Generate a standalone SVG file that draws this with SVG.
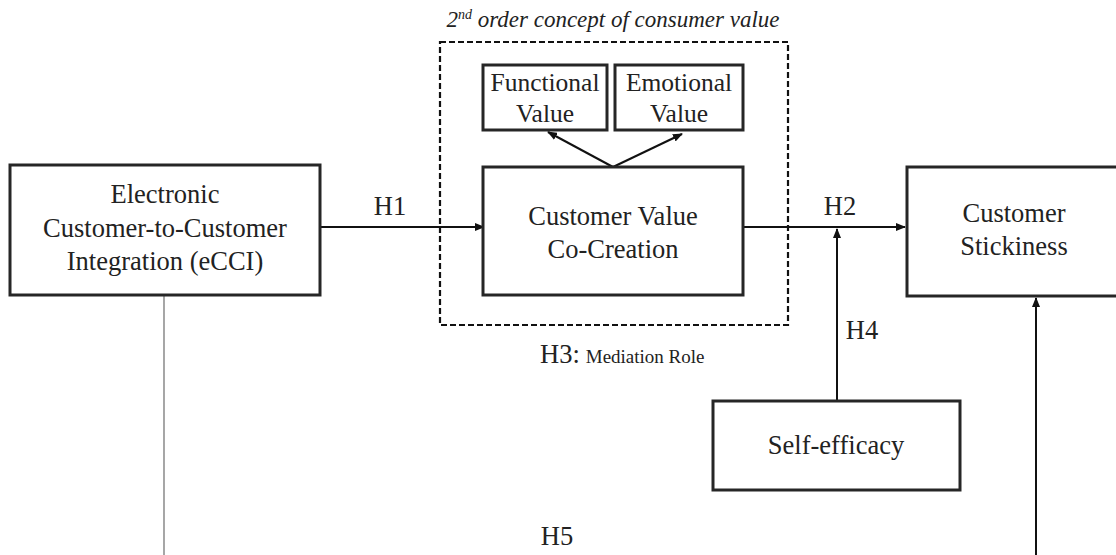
<svg xmlns="http://www.w3.org/2000/svg" width="1116" height="555" viewBox="0 0 1116 555">
<defs>
<style>
.box{fill:#fff;stroke:#262626;stroke-width:3}
.t{font-family:"Liberation Serif","Times New Roman",serif;font-size:26.5px;fill:#222;text-anchor:middle}
.s{font-size:25.5px}
.ln{stroke:#111;stroke-width:2;fill:none}
</style>
<marker id="ah" markerWidth="10" markerHeight="8" refX="9" refY="4" orient="auto" markerUnits="userSpaceOnUse">
<path d="M0,0 L10,4 L0,8 Z" fill="#111"/>
</marker>
</defs>
<rect width="1116" height="555" fill="#fff"/>
<g id="connectors">
<line class="ln" x1="320" y1="227" x2="484" y2="227" marker-end="url(#ah)"/>
<line class="ln" x1="743" y1="227" x2="905" y2="227" marker-end="url(#ah)"/>
<line class="ln" x1="837" y1="401" x2="837" y2="229" marker-end="url(#ah)"/>
<line class="ln" x1="613" y1="167" x2="548" y2="132" marker-end="url(#ah)"/>
<line class="ln" x1="613" y1="167" x2="682" y2="134" marker-end="url(#ah)"/>
<line x1="164" y1="296" x2="164" y2="555" stroke="#777" stroke-width="1.3"/>
<line class="ln" x1="1036" y1="555" x2="1036" y2="298" marker-end="url(#ah)"/>
</g>
<g id="group-consumer-value">
<rect x="440" y="42" width="348" height="283" fill="none" stroke="#111" stroke-width="2.2" stroke-dasharray="6,3"/>
<text x="613" y="27" font-family="Liberation Serif,serif" font-style="italic" font-size="23" fill="#222" text-anchor="middle">2<tspan font-size="14" dy="-8">nd</tspan><tspan dy="8"> order concept of consumer value</tspan></text>
</g>
<g id="eCCI">
<rect class="box" x="10" y="165" width="310" height="130"/>
<text class="t" x="165" y="203">Electronic</text>
<text class="t" x="165" y="237">Customer-to-Customer</text>
<text class="t" x="165" y="270">Integration (eCCI)</text>
</g>
<g id="cvcc">
<rect class="box" x="483" y="167" width="260" height="128"/>
<text class="t" x="613" y="225">Customer Value</text>
<text class="t" x="613" y="258">Co-Creation</text>
</g>
<g id="functional">
<rect class="box" x="483" y="65" width="124" height="65"/>
<text class="t s" x="545" y="91">Functional</text>
<text class="t s" x="545" y="122">Value</text>
</g>
<g id="emotional">
<rect class="box" x="615" y="65" width="128" height="65"/>
<text class="t s" x="679" y="91">Emotional</text>
<text class="t s" x="679" y="122">Value</text>
</g>
<g id="stickiness">
<rect class="box" x="907" y="167" width="220" height="129"/>
<text class="t" x="1014" y="222">Customer</text>
<text class="t" x="1014" y="255">Stickiness</text>
</g>
<g id="selfefficacy">
<rect class="box" x="713" y="401" width="247" height="89"/>
<text class="t" x="836" y="454">Self-efficacy</text>
</g>
<g id="labels">
<text class="t" x="390" y="215">H1</text>
<text class="t" x="840" y="215">H2</text>
<text class="t" x="862" y="339">H4</text>
<text class="t" x="557" y="545">H5</text>
<text x="540" y="363" font-family="Liberation Serif,serif" font-size="26.5" fill="#222">H3:<tspan font-size="19" dx="6">Mediation Role</tspan></text>
</g>
</svg>
